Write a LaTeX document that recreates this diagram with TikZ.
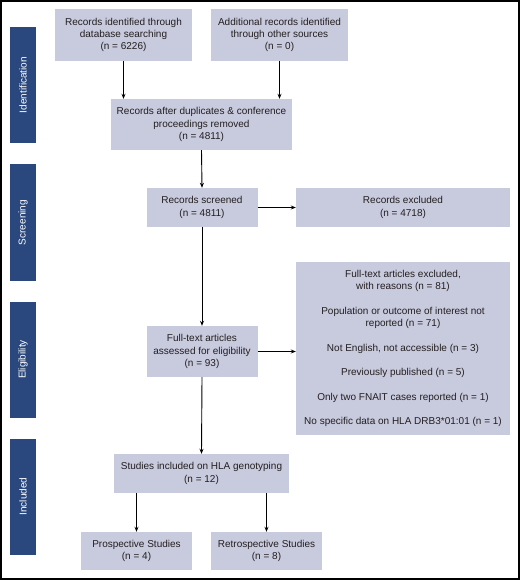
\documentclass[tikz,border=0pt]{standalone}
\usepackage{fontspec}
\setmainfont{Liberation Sans}
\usetikzlibrary{arrows.meta}
\definecolor{boxfill}{RGB}{200,202,222}
\definecolor{barfill}{RGB}{42,72,126}
\definecolor{txt}{RGB}{35,31,32}
\begin{document}
\begin{tikzpicture}[x=1pt,y=-1pt,
  box/.style={fill=boxfill,draw=none,inner sep=0pt,align=center,text=txt,font=\fontsize{10}{12.3}\selectfont},
  bar/.style={fill=barfill,draw=none,inner sep=0pt,minimum width=116pt,minimum height=26pt,text=white,rotate=90,font=\fontsize{10}{11}\selectfont},
  arr/.style={line width=0.9pt,-{Stealth[length=5pt,width=4pt]}}]
\useasboundingbox (0,0) rectangle (520,580);
\draw[line width=1.3pt] (1,1) rectangle (519,579);
% side bars
\node[bar] (sid) at (23,85) {Identification};
\node[bar] (ssc) at (23,222.5) {Screening};
\node[bar] (sel) at (23,359.5) {Eligibility};
\node[bar] (sin) at (23,496.5) {Included};
% boxes
\node[box,minimum width=137pt,minimum height=52pt] (b1) at (123.5,35) {Records identified through\\database searching\\(n = 6226)};
\node[box,minimum width=137pt,minimum height=52pt] (b2) at (279.5,35) {Additional records identified\\through other sources\\(n = 0)};
\node[box,minimum width=181pt,minimum height=51pt] (b3) at (201.5,124.5) {Records after duplicates \& conference\\proceedings removed\\(n = 4811)};
\node[box,minimum width=111pt,minimum height=39pt] (b4) at (202,207.5) {Records screened\\(n = 4811)};
\node[box,minimum width=214pt,minimum height=39pt] (b5) at (403,207.5) {Records excluded\\(n = 4718)};
\node[box,minimum width=111pt,minimum height=51pt] (b6) at (202,351.5) {Full-text articles\\assessed for eligibility\\(n = 93)};
\node[box,minimum width=214pt,minimum height=173pt] (b7) at (403,348.5) {Full-text articles excluded,\\with reasons (n = 81)\\[12.2pt]Population or outcome of interest not\\reported (n = 71)\\[12.2pt]Not English, not accessible (n = 3)\\[12.2pt]Previously published (n = 5)\\[12.2pt]Only two FNAIT cases reported (n = 1)\\[12.2pt]No specific data on HLA DRB3*01:01 (n = 1)};
\node[box,minimum width=175pt,minimum height=39pt] (b8) at (201.5,473.5) {Studies included on HLA genotyping\\(n = 12)};
\node[box,minimum width=111pt,minimum height=38pt] (b9) at (136.5,551) {Prospective Studies\\(n = 4)};
\node[box,minimum width=111pt,minimum height=38pt] (b10) at (266.5,551) {Retrospective Studies\\(n = 8)};
% arrows
\draw[arr] (b1.south) -- (b1.south |- b3.north);
\draw[arr] (b2.south) -- (b2.south |- b3.north);
\draw[arr] (b3.south) -- (b4.north);
\draw[arr] (b4.east) -- (b5.west);
\draw[arr] (b4.south) -- (b6.north);
\draw[arr] (b6.east) -- (b6.east -| b7.west);
\draw[arr] (b6.south) -- (b8.north);
\draw[arr] (b9.north |- b8.south) -- (b9.north);
\draw[arr] (b10.north |- b8.south) -- (b10.north);
\end{tikzpicture}
\end{document}
